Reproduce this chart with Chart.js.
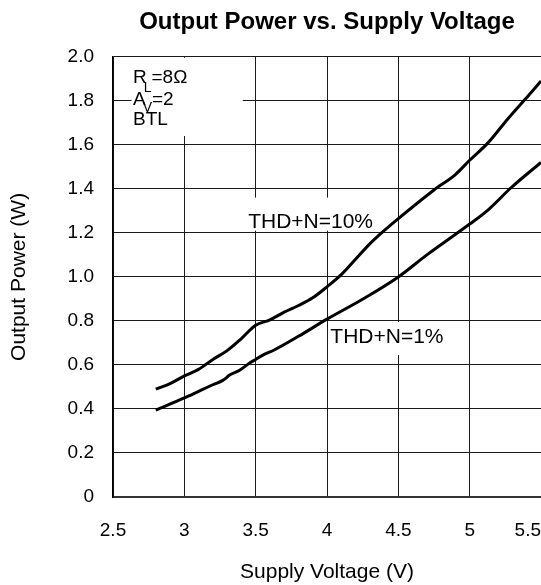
<!DOCTYPE html>
<html>
<head>
<meta charset="utf-8">
<script src="https://cdn.jsdelivr.net/npm/chart.js@4.4.1/dist/chart.umd.min.js"></script>
<style>
  html, body { margin: 0; padding: 0; background: #fff; }
  #wrap { width: 541px; height: 585px; }
</style>
</head>
<body>
<div id="wrap"><canvas id="powerChart" width="541" height="585"></canvas></div>
<script>
// THD+N = 10% curve
const voltsTen = [2.8, 2.9, 3.0, 3.1, 3.2, 3.3, 3.4, 3.5, 3.6, 3.7, 3.8, 3.9, 4.0, 4.1, 4.2, 4.3, 4.4, 4.5, 4.75, 4.9, 5.0, 5.13, 5.27, 5.42, 5.5];
const powerTen = [0.49, 0.515, 0.55, 0.58, 0.625, 0.665, 0.72, 0.78, 0.805, 0.84, 0.87, 0.905, 0.955, 1.01, 1.08, 1.15, 1.21, 1.265, 1.395, 1.465, 1.53, 1.61, 1.72, 1.83, 1.89];

// THD+N = 1% curve
const voltsOne = [2.8, 3.0, 3.1, 3.2, 3.27, 3.32, 3.39, 3.46, 3.5, 3.56, 3.63, 3.8, 4.0, 4.24, 4.5, 4.7, 5.0, 5.13, 5.29, 5.5];
const powerOne = [0.395, 0.45, 0.48, 0.51, 0.53, 0.555, 0.577, 0.61, 0.625, 0.648, 0.668, 0.73, 0.808, 0.895, 1.0, 1.1, 1.24, 1.305, 1.405, 1.52];

const xTicks = [2.5, 3, 3.5, 4, 4.5, 5, 5.5];
const yTicks = [0, 0.2, 0.4, 0.6, 0.8, 1.0, 1.2, 1.4, 1.6, 1.8, 2.0];

const FONT = "'Liberation Sans', Arial, sans-serif";
Chart.defaults.font.family = FONT;
Chart.defaults.color = '#000';

// labels and condition text drawn on white patches over the grid
const notes = {
  id: 'notes',
  beforeDatasetsDraw(chart) {
    const {ctx, chartArea, scales: {x, y}} = chart;
    ctx.save();
    ctx.fillStyle = '#fff';
    let l = x.getPixelForValue(2.63), r = x.getPixelForValue(3.41);
    ctx.fillRect(l, chartArea.top + 1, r - l, y.getPixelForValue(1.64) - chartArea.top - 1);
    l = x.getPixelForValue(3.41); r = x.getPixelForValue(4.33);
    let t = y.getPixelForValue(1.36), b = y.getPixelForValue(1.21);
    ctx.fillRect(l, t, r - l, b - t);
    l = x.getPixelForValue(4.01); r = x.getPixelForValue(4.83);
    t = y.getPixelForValue(0.795); b = y.getPixelForValue(0.645);
    ctx.fillRect(l, t, r - l, b - t);

    ctx.fillStyle = '#000';
    ctx.font = '21px ' + FONT;
    ctx.textAlign = 'center';
    ctx.textBaseline = 'middle';
    ctx.fillText('THD+N=10%', x.getPixelForValue(3.885), y.getPixelForValue(1.25));
    ctx.fillText('THD+N=1%', x.getPixelForValue(4.42), y.getPixelForValue(0.727));

    // R_L=8Ω / A_V=2 / BTL
    ctx.textAlign = 'left';
    ctx.textBaseline = 'alphabetic';
    const x0 = chartArea.left + 20;
    const big = '19px ' + FONT, small = '14px ' + FONT;
    const sub = (main, s, rest, base, drop) => {
      ctx.font = big;
      ctx.fillText(main, x0, base);
      const sx = x0 + ctx.measureText(main).width - 3;
      ctx.font = small;
      ctx.fillText(s, sx, base + drop);
      const rx = sx + ctx.measureText(s).width;
      ctx.font = big;
      ctx.fillText(rest, rx, base);
    };
    sub('R', 'L', '=8\u03A9', chartArea.top + 26, 9);
    sub('A', 'V', '=2', chartArea.top + 48, 7);
    ctx.font = big;
    ctx.fillText('BTL', x0, chartArea.top + 68);
    ctx.restore();
  }
};

new Chart(document.getElementById('powerChart'), {
  type: 'line',
  data: {
    datasets: [{
      label: 'THD+N=10%',
      data: voltsTen.map((v, i) => ({x: v, y: powerTen[i]})),
      borderColor: '#000',
      borderWidth: 3,
      pointRadius: 0,
      cubicInterpolationMode: 'monotone',
      fill: false
    }, {
      label: 'THD+N=1%',
      data: voltsOne.map((v, i) => ({x: v, y: powerOne[i]})),
      borderColor: '#000',
      borderWidth: 3,
      pointRadius: 0,
      cubicInterpolationMode: 'monotone',
      fill: false
    }]
  },
  options: {
    responsive: false,
    animation: false,
    layout: { padding: 0 },
    plugins: {
      legend: { display: false },
      tooltip: { enabled: false },
      title: {
        display: true,
        text: 'Output Power vs. Supply Voltage',
        fullSize: false,
        font: { size: 24, weight: 'bold' },
        color: '#000',
        padding: { top: 8, bottom: 20 }
      }
    },
    scales: {
      x: {
        type: 'linear',
        min: 2.5,
        max: 5.5,
        afterBuildTicks: (scale) => { scale.ticks = xTicks.map(v => ({value: v})); },
        afterFit: (scale) => { scale.height = 88; scale.paddingRight = 0; },
        ticks: {
          font: { size: 19 },
          color: '#000',
          padding: 22,
          autoSkip: false,
          maxRotation: 0,
          callback: (v) => v === 5.5 ? '5.5     ' : String(v)
        },
        grid: { color: '#1a1a1a', lineWidth: 1, drawTicks: false },
        border: { display: true, color: '#333', width: 2 },
        title: {
          display: true,
          text: 'Supply Voltage (V)',
          font: { size: 21 },
          color: '#000',
          padding: { top: 20, bottom: 0 }
        }
      },
      y: {
        min: 0,
        max: 2.0,
        afterBuildTicks: (scale) => { scale.ticks = yTicks.map(v => ({value: v})); },
        afterFit: (scale) => { scale.width = 113; },
        ticks: {
          font: { size: 19 },
          color: '#000',
          padding: 19,
          callback: (v) => v === 0 ? '0' : v.toFixed(1)
        },
        grid: { color: '#1a1a1a', lineWidth: 1, drawTicks: false },
        border: { display: true, color: '#000', width: 1.5 },
        title: {
          display: true,
          text: 'Output Power (W)',
          font: { size: 21 },
          color: '#000',
          padding: { top: 7, bottom: 0 }
        }
      }
    }
  },
  plugins: [notes]
});
</script>
</body>
</html>
